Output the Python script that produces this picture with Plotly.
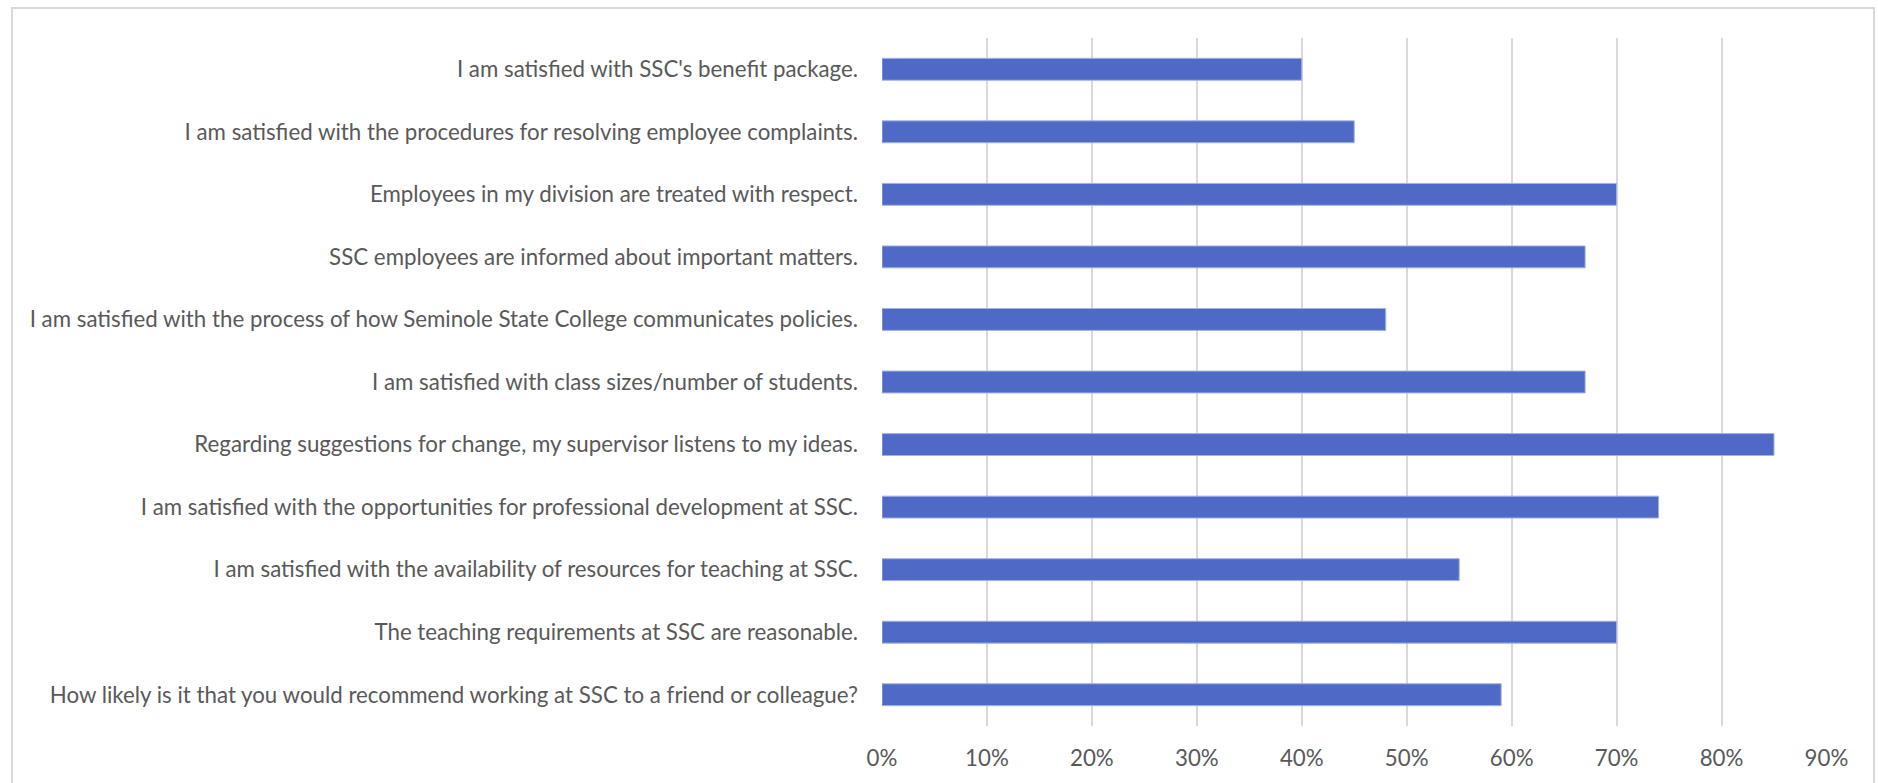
import plotly.graph_objects as go

categories = [
    "I am satisfied with SSC's benefit package.",
    "I am satisfied with the procedures for resolving employee complaints.",
    "Employees in my division are treated with respect.",
    "SSC employees are informed about important matters.",
    "I am satisfied with the process of how Seminole State College communicates policies.",
    "I am satisfied with class sizes/number of students.",
    "Regarding suggestions for change, my supervisor listens to my ideas.",
    "I am satisfied with the opportunities for professional development at SSC.",
    "I am satisfied with the availability of resources for teaching at SSC.",
    "The teaching requirements at SSC are reasonable.",
    "How likely is it that you would recommend working at SSC to a friend or colleague?",
]
values = [0.40, 0.45, 0.70, 0.67, 0.48, 0.67, 0.85, 0.74, 0.55, 0.70, 0.59]
tick_vals = [0, 0.1, 0.2, 0.3, 0.4, 0.5, 0.6, 0.7, 0.8, 0.9]
tick_text = ["0%", "10%", "20%", "30%", "40%", "50%", "60%", "70%", "80%", "90%"]

W, H = 1878, 783
L, R, T, B = 882, 51, 38, 55

fig = go.Figure(go.Bar(
    x=values, y=categories, orientation="h",
    width=0.35,
    marker=dict(color="#4F69C6", line=dict(color="#A3B2E6", width=1)),
    hoverinfo="x+y",
))

font_family = "Lato"
fsize = 22.3
fig.update_layout(
    width=W, height=H,
    margin=dict(l=L, r=R, t=T, b=B, pad=0),
    paper_bgcolor="white", plot_bgcolor="white",
    showlegend=False,
    font=dict(family=font_family, size=fsize, color="#595959"),
    xaxis=dict(
        range=[0, 0.9005], tickvals=tick_vals, ticktext=tick_text,
        showgrid=True, gridcolor="#D9D9D9", gridwidth=2,
        zeroline=False, showline=False, ticks="",
        tickfont=dict(family=font_family, size=fsize, color="#595959"),
        ticklabelstandoff=17,
        fixedrange=True,
    ),
    yaxis=dict(
        autorange="reversed", showgrid=False, zeroline=False, showline=False,
        ticks="", ticklabelstandoff=23,
        tickfont=dict(family=font_family, size=fsize, color="#595959"),
        fixedrange=True,
    ),
)

# outer chart border
pw, ph = W - L - R, H - T - B
def px_x(x):
    return (x - L) / pw
def px_y(y):
    return (H - B - y) / ph
fig.add_shape(type="rect", xref="paper", yref="paper",
              x0=px_x(12), x1=px_x(1874), y0=px_y(795), y1=px_y(8),
              line=dict(color="#D9D9D9", width=2), fillcolor="rgba(0,0,0,0)",
              layer="below")

fig.write_html("out.html", config={"displayModeBar": False},
               post_script="document.body.style.margin='0';document.body.style.overflow='hidden';")
